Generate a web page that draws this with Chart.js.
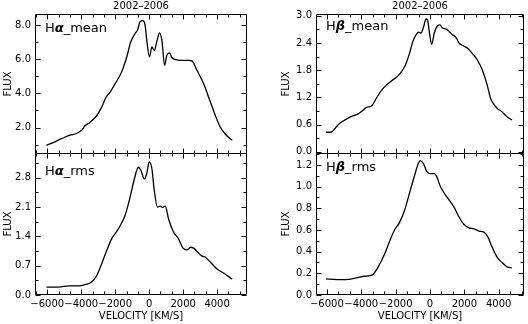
<!DOCTYPE html>
<html>
<head>
<meta charset="utf-8">
<script src="https://cdn.jsdelivr.net/npm/chart.js@4/dist/chart.umd.min.js"></script>
<style>
  body { margin: 0; background: #fff; }
  #wrap { position: relative; width: 528px; height: 324px; overflow: hidden; }
  canvas { position: absolute; }
</style>
</head>
<body>
<div id="wrap">
  <canvas id="haMean" width="264" height="175" style="left:0;top:0"></canvas>
  <canvas id="haRms" width="264" height="189" style="left:0;top:135px"></canvas>
  <canvas id="hbMean" width="264" height="175" style="left:264px;top:0"></canvas>
  <canvas id="hbRms" width="264" height="189" style="left:264px;top:135px"></canvas>
</div>
<script>
// ---- data ----
const periodTitle = '2002–2006';

const xMajorTicks = [-6000, -4000, -2000, 0, 2000, 4000];

const haMeanTicks = [2, 4, 6, 8];
const haRmsTicks = [0, 0.7, 1.4, 2.1, 2.8];
const hbMeanTicks = [0, 0.6, 1.2, 1.8, 2.4, 3.0];
const hbRmsTicks = [0, 0.2, 0.4, 0.6, 0.8, 1.0, 1.2];

const haMeanVel = [-6050, -5650, -5160, -4670, -4280, -3980, -3780, -3490, -3090, -2800,
  -2540, -2300, -2010, -1620, -1320, -1080, -830, -690, -530, -370,
  -240, -140, 20, 160, 300, 450, 610, 750, 910, 1040,
  1200, 1340, 1640, 1930, 2330, 2520, 2820, 3210, 3610, 3900,
  4200, 4490, 4890];
const haMeanFlux = [0.96, 1.12, 1.35, 1.55, 1.65, 1.84, 2.10, 2.30, 2.69, 3.18,
  3.77, 4.07, 4.56, 5.25, 6.13, 7.02, 7.51, 7.70, 8.20, 8.26,
  8.0, 7.11, 6.13, 6.72, 6.52, 7.02, 7.55, 7.11, 5.64, 6.23,
  6.37, 6.09, 5.97, 5.93, 5.93, 5.90, 5.34, 4.56, 3.48, 2.69,
  2.0, 1.61, 1.25];

const haRmsVel = [-6050, -5360, -4670, -4080, -3680, -3390, -3090, -2800, -2500, -2210,
  -1810, -1420, -1120, -890, -630, -490, -280, -140, 0, 160,
  300, 490, 650, 790, 950, 1140, 1440, 1730, 1990, 2230,
  2460, 2620, 2820, 3070, 3310, 3610, 4000, 4390, 4890];
const haRmsFlux = [0.19, 0.19, 0.22, 0.22, 0.26, 0.31, 0.46, 0.74, 1.06, 1.34,
  1.58, 1.90, 2.34, 2.74, 3.05, 2.98, 2.77, 2.90, 3.18, 3.02,
  2.50, 2.10, 2.12, 2.09, 2.12, 1.82, 1.50, 1.34, 1.12, 1.08,
  1.14, 1.12, 1.04, 0.94, 0.90, 0.78, 0.62, 0.52, 0.38];

const hbMeanVel = [-6050, -5810, -5650, -5400, -5240, -5000, -4680, -4350, -4110, -3880,
  -3690, -3400, -3120, -2830, -2540, -2250, -1870, -1580, -1390, -1190,
  -1000, -870, -670, -520, -390, -230, -140, -40, 100, 250,
  440, 580, 730, 920, 1120, 1310, 1500, 1690, 1940, 2210,
  2460, 2750, 3040, 3330, 3520, 3710, 3900, 4190, 4480, 4770];
const hbMeanFlux = [0.43, 0.43, 0.46, 0.57, 0.63, 0.69, 0.76, 0.81, 0.85, 0.92,
  0.98, 1.01, 1.18, 1.35, 1.47, 1.56, 1.67, 1.81, 1.95, 2.17,
  2.43, 2.54, 2.64, 2.62, 2.73, 2.93, 2.91, 2.65, 2.37, 2.62,
  2.78, 2.80, 2.73, 2.71, 2.65, 2.58, 2.53, 2.40, 2.34, 2.28,
  2.17, 2.03, 1.81, 1.47, 1.18, 1.05, 0.96, 0.88, 0.77, 0.70];

const hbRmsVel = [-6050, -5400, -4760, -4280, -3790, -3350, -3020, -2630, -2290, -2060,
  -1770, -1480, -1190, -900, -710, -560, -370, -190, 0, 250,
  400, 580, 830, 1120, 1400, 1690, 1980, 2270, 2560, 2850,
  3140, 3370, 3620, 3900, 4190, 4480, 4770];
const hbRmsFlux = [0.148, 0.142, 0.145, 0.158, 0.173, 0.186, 0.257, 0.38, 0.52, 0.60,
  0.67, 0.78, 0.94, 1.10, 1.20, 1.24, 1.21, 1.14, 1.12, 1.12,
  1.09, 1.01, 0.94, 0.875, 0.81, 0.72, 0.65, 0.62, 0.61, 0.59,
  0.58, 0.535, 0.44, 0.35, 0.30, 0.26, 0.25];

// ---- drawing ----
const FONT = '"DejaVu Sans", sans-serif';
const tickFont = { family: FONT, size: 10, lineHeight: 1.2 };

function minorValues(min, max, step, majors) {
  const out = [];
  for (let k = Math.ceil(min / step - 1e-9); k <= Math.floor(max / step + 1e-9); k++) {
    const v = k * step;
    if (!majors.some(m => Math.abs(m - v) < step / 10)) out.push(v);
  }
  return out;
}

// IDL style: closed box with inward ticks on all four sides, plus the panel label
const boxTicks = {
  id: 'boxTicks',
  afterDatasetsDraw(chart, args, o) {
    const { ctx, chartArea: a } = chart;
    const xs = chart.scales.x, ys = chart.scales.y;
    const L = Math.round(a.left) + 0.5, R = Math.round(a.right) - 0.5;
    const T = Math.round(a.top) + 0.5, B = Math.round(a.bottom) - 0.5;

    ctx.save();
    ctx.strokeStyle = '#000';
    ctx.lineWidth = 1;
    ctx.beginPath();
    ctx.rect(L, T, R - L, B - T);

    const xTick = (v, len) => {
      const p = Math.round(xs.getPixelForValue(v)) + 0.5;
      ctx.moveTo(p, B); ctx.lineTo(p, B - len);
      ctx.moveTo(p, T); ctx.lineTo(p, T + len);
    };
    const yTick = (v, len) => {
      const p = Math.round(ys.getPixelForValue(v)) + 0.5;
      ctx.moveTo(L, p); ctx.lineTo(L + len, p);
      ctx.moveTo(R, p); ctx.lineTo(R - len, p);
    };

    xMajorTicks.forEach(v => xTick(v, 5));
    minorValues(xs.min, xs.max, o.xMinor, xMajorTicks).forEach(v => xTick(v, 3));
    o.yMajor.forEach(v => yTick(v, 5));
    minorValues(ys.min, ys.max, o.yMinor, o.yMajor).forEach(v => yTick(v, 3));
    ctx.stroke();

    // panel label, e.g. H(alpha)_mean
    ctx.fillStyle = '#000';
    ctx.textBaseline = 'middle';
    let tx = a.left + o.labelDx;
    const ty = a.top + o.labelDy;
    ctx.font = '13px ' + FONT;
    ctx.fillText('H', tx, ty);
    tx += ctx.measureText('H').width;
    ctx.font = 'italic bold 13px ' + FONT;
    ctx.fillText(o.greek, tx, ty);
    tx += ctx.measureText(o.greek).width;
    ctx.font = '13px ' + FONT;
    ctx.fillText(o.suffix, tx, ty);
    ctx.restore();
  }
};

function panel(id, vel, flux, cfg) {
  const scales = {
    x: {
      type: 'linear',
      position: 'bottom',
      min: cfg.xMin,
      max: cfg.xMax,
      afterBuildTicks: s => { s.ticks = xMajorTicks.map(v => ({ value: v })); },
      afterFit: s => { s.height = cfg.xHeight; },
      grid: { display: false, drawTicks: false },
      border: { display: false },
      ticks: {
        display: cfg.bottom,
        padding: 3,
        color: '#000',
        font: tickFont,
        maxRotation: 0,
        callback: v => String(v).replace('-', '\u2212')
      },
      title: {
        display: cfg.bottom,
        text: 'VELOCITY [KM/S]',
        color: '#000',
        font: tickFont,
        padding: { top: 0, bottom: 2 }
      }
    },
    y: {
      type: 'linear',
      position: 'left',
      min: cfg.yMin,
      max: cfg.yMax,
      afterBuildTicks: s => { s.ticks = cfg.yTicks.map(v => ({ value: v })); },
      afterFit: s => { s.width = cfg.yWidth; },
      grid: { display: false, drawTicks: false },
      border: { display: false },
      ticks: {
        padding: 4,
        color: '#000',
        font: tickFont,
        callback: v => v.toFixed(1)
      },
      title: {
        display: true,
        text: 'FLUX',
        color: '#000',
        font: tickFont,
        padding: { top: cfg.fluxPad, bottom: 0 }
      }
    }
  };

  if (!cfg.bottom) {
    scales.top = {
      type: 'linear',
      position: 'top',
      afterFit: s => { s.height = 14; },
      grid: { display: false, drawTicks: false },
      border: { display: false },
      ticks: { display: false },
      title: {
        display: true,
        text: periodTitle,
        color: '#000',
        font: tickFont,
        padding: 0
      }
    };
  }

  return new Chart(document.getElementById(id), {
    type: 'line',
    data: {
      datasets: [{
        data: vel.map((v, i) => ({ x: v, y: flux[i] })),
        borderColor: '#000',
        borderWidth: 1.3,
        pointRadius: 0,
        fill: false,
        cubicInterpolationMode: 'monotone'
      }]
    },
    options: {
      responsive: false,
      animation: false,
      events: [],
      layout: { padding: { top: cfg.padTop, right: cfg.padRight, left: 0, bottom: 0 } },
      scales: scales,
      plugins: {
        legend: { display: false },
        tooltip: { enabled: false },
        boxTicks: {
          xMinor: 2000 / 3,
          yMajor: cfg.yTicks,
          yMinor: cfg.yMinor,
          greek: cfg.greek,
          suffix: cfg.suffix,
          labelDx: 10,
          labelDy: cfg.labelDy
        }
      }
    },
    plugins: [boxTicks]
  });
}

panel('haMean', haMeanVel, haMeanFlux, {
  bottom: false, xMin: -6720, xMax: 5760, yMin: 0.45, yMax: 8.65,
  yTicks: haMeanTicks, yMinor: 1, yWidth: 35, padTop: 0, padRight: 17, xHeight: 21,
  fluxPad: 2, greek: 'α', suffix: '_mean', labelDy: 15
});
panel('haRms', haRmsVel, haRmsFlux, {
  bottom: true, xMin: -6720, xMax: 5760, yMin: 0, yMax: 3.39,
  yTicks: haRmsTicks, yMinor: 0.35, yWidth: 35, padTop: 18, padRight: 17, xHeight: 29,
  fluxPad: 2, greek: 'α', suffix: '_rms', labelDy: 19
});
panel('hbMean', hbMeanVel, hbMeanFlux, {
  bottom: false, xMin: -6630, xMax: 5470, yMin: -0.05, yMax: 3.04,
  yTicks: hbMeanTicks, yMinor: 0.3, yWidth: 52, padTop: 0, padRight: 4, xHeight: 21,
  fluxPad: 16, greek: 'β', suffix: '_mean', labelDy: 13
});
panel('hbRms', hbRmsVel, hbRmsFlux, {
  bottom: true, xMin: -6630, xMax: 5470, yMin: 0, yMax: 1.31,
  yTicks: hbRmsTicks, yMinor: 0.1, yWidth: 52, padTop: 18, padRight: 4, xHeight: 29,
  fluxPad: 16, greek: 'β', suffix: '_rms', labelDy: 15
});
</script>
</body>
</html>
